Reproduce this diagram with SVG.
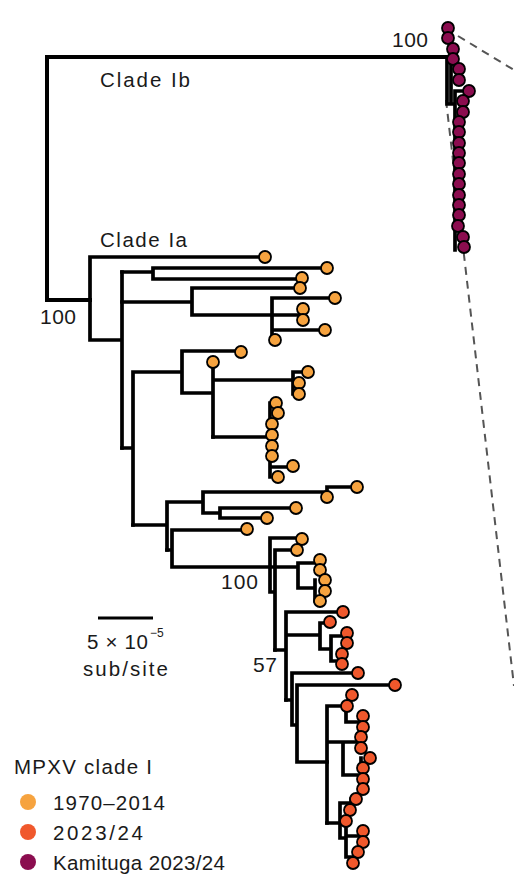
<svg xmlns="http://www.w3.org/2000/svg" width="514" height="876" viewBox="0 0 514 876">
<style>
.br{fill:none;stroke:#000;stroke-width:3.7;stroke-linecap:square;stroke-linejoin:miter}
.root{stroke-width:4}
.dash{fill:none;stroke:#555;stroke-width:2;stroke-dasharray:8,6}
.o{fill:#F6A33F;stroke:#000;stroke-width:1.8}
.r{fill:#F0582C;stroke:#000;stroke-width:1.8}
.k{fill:#8B0D4F;stroke:#000;stroke-width:1.8}
.t{font-family:"Liberation Sans",Arial,sans-serif;font-size:20.5px;fill:#1a1a1a}
.n{font-family:"Liberation Sans",Arial,sans-serif;font-size:21px;fill:#1a1a1a}
</style>
<rect width="514" height="876" fill="#fff"/>
<g id="zoom-lines">
<path class="dash" d="M458,36 L514,70"/>
<path class="dash" d="M446,100 L514,686"/>
</g>
<g id="connectors">
<path class="br root" d="M47,57 H447 M47,57 V300 H90"/>
<path class="br" d="M447,57 V104 H455 M451,65 V104 M455,91 V250 M455,91 H465"/>
<path class="br" d="M90,257 V340 M90,257 H260 M90,340 H122 M122,272 V448"/>
<path class="br" d="M122,272 H153 M153,268 V279 M153,268 H321 M153,279 H296"/>
<path class="br" d="M122,302 H192 M192,288 V315 M192,288 H294 M192,315 H302 M302,309 V320 M272,298 V340 M272,298 H329 M272,330 H320"/>
<path class="br" d="M122,448 H133 M133,372 V525 M133,372 H182 M182,351 V393 M182,351 H236 M182,393 H213 M213,362 V437 M213,380 H293 M293,372 V394 M293,372 H303 M293,383 H296 M293,394 H296"/>
<path class="br" d="M213,437 H270 M270,403 V477 M270,467 H288"/>
<path class="br" d="M133,525 H167 M167,502 V550 M167,502 H203 M203,492 V513 M203,492 H327 M327,487 V497 M327,487 H352 M203,513 H220 M220,508 V518 M220,508 H290 M220,518 H261"/>
<path class="br" d="M167,550 H172 M172,530 V567 M172,530 H241 M172,567 H298 M270,538 V592 M270,538 H296 M270,592 H275 M275,550 V650 M275,550 H291 M298,563 V588 M298,563 H317 M317,560 V570 M298,588 H315 M315,580 V601"/>
<path class="br" d="M275,650 H286 M286,612 V700 M286,612 H337 M286,635 H320 M320,623 V649 M320,623 H325 M320,649 H331 M331,636 V661 M331,636 H345 M345,633 V643 M331,661 H340 M340,654 V664"/>
<path class="br" d="M286,700 H292 M292,673 V725 M292,673 H352 M292,725 H297 M297,685 V762 M297,685 H389 M297,762 H327"/>
<path class="br" d="M327,706 V823 M327,706 H346 V722 H360 M360,716 V727 M327,742 H343 M343,742 V775 M343,742 H359 M359,737 V748 M343,775 H361 M361,758 V789"/>
<path class="br" d="M327,823 H340 M340,803 V838 M340,803 H351 M351,799 V810 M340,838 H346 M346,821 V857 M346,836 H361 M361,831 V842 M346,857 H356 M356,852 V863"/>
</g>
<g id="clade-Ib">
<circle id="ib1" class="k" cx="448" cy="28" r="6"/>
<circle id="ib2" class="k" cx="448" cy="38" r="6"/>
<circle id="ib3" class="k" cx="453" cy="49" r="6"/>
<circle id="ib4" class="k" cx="453" cy="59" r="6"/>
<circle id="ib5" class="k" cx="459" cy="69" r="6"/>
<circle id="ib6" class="k" cx="459" cy="80" r="6"/>
<circle id="ib7" class="k" cx="469" cy="91" r="6"/>
<circle id="ib8" class="k" cx="463" cy="101" r="6"/>
<circle id="ib9" class="k" cx="463" cy="112" r="6"/>
<circle id="ib10" class="k" cx="459" cy="122" r="6"/>
<circle id="ib11" class="k" cx="459" cy="132" r="6"/>
<circle id="ib12" class="k" cx="459" cy="143" r="6"/>
<circle id="ib13" class="k" cx="459" cy="153" r="6"/>
<circle id="ib14" class="k" cx="459" cy="163" r="6"/>
<circle id="ib15" class="k" cx="459" cy="174" r="6"/>
<circle id="ib16" class="k" cx="459" cy="184" r="6"/>
<circle id="ib17" class="k" cx="459" cy="195" r="6"/>
<circle id="ib18" class="k" cx="459" cy="205" r="6"/>
<circle id="ib19" class="k" cx="459" cy="215" r="6"/>
<circle id="ib20" class="k" cx="458" cy="226" r="6"/>
<circle id="ib21" class="k" cx="463" cy="237" r="6"/>
<circle id="ib22" class="k" cx="464" cy="247" r="6"/>
</g>
<g id="clade-Ia-old">
<circle id="o1" class="o" cx="265" cy="257" r="6"/>
<circle id="o2" class="o" cx="327" cy="268" r="6"/>
<circle id="o3" class="o" cx="302" cy="278" r="6"/>
<circle id="o4" class="o" cx="300" cy="288" r="6"/>
<circle id="o5" class="o" cx="335" cy="298" r="6"/>
<circle id="o6" class="o" cx="303" cy="309" r="6"/>
<circle id="o7" class="o" cx="303" cy="320" r="6"/>
<circle id="o8" class="o" cx="325" cy="330" r="6"/>
<circle id="o9" class="o" cx="275" cy="340" r="6"/>
<circle id="o10" class="o" cx="241" cy="352" r="6"/>
<circle id="o11" class="o" cx="213" cy="362" r="6"/>
<circle id="o12" class="o" cx="308" cy="372" r="6"/>
<circle id="o13" class="o" cx="299" cy="383" r="6"/>
<circle id="o14" class="o" cx="299" cy="394" r="6"/>
<circle id="o15" class="o" cx="276" cy="403" r="6"/>
<circle id="o16" class="o" cx="278" cy="413" r="6"/>
<circle id="o17" class="o" cx="272" cy="424" r="6"/>
<circle id="o18" class="o" cx="272" cy="435" r="6"/>
<circle id="o19" class="o" cx="272" cy="446" r="6"/>
<circle id="o20" class="o" cx="272" cy="456" r="6"/>
<circle id="o21" class="o" cx="293" cy="466" r="6"/>
<circle id="o22" class="o" cx="278" cy="477" r="6"/>
<circle id="o23" class="o" cx="357" cy="487" r="6"/>
<circle id="o24" class="o" cx="327" cy="497" r="6"/>
<circle id="o25" class="o" cx="296" cy="508" r="6"/>
<circle id="o26" class="o" cx="267" cy="518" r="6"/>
<circle id="o27" class="o" cx="247" cy="529" r="6"/>
<circle id="o28" class="o" cx="302" cy="539" r="6"/>
<circle id="o29" class="o" cx="297" cy="550" r="6"/>
<circle id="o30" class="o" cx="320" cy="560" r="6"/>
<circle id="o31" class="o" cx="320" cy="570" r="6"/>
<circle id="o32" class="o" cx="325" cy="580" r="6"/>
<circle id="o33" class="o" cx="325" cy="591" r="6"/>
<circle id="o34" class="o" cx="320" cy="601" r="6"/>
</g>
<g id="clade-Ia-new">
<circle id="r1" class="r" cx="343" cy="612" r="6"/>
<circle id="r2" class="r" cx="330" cy="622" r="6"/>
<circle id="r3" class="r" cx="347" cy="633" r="6"/>
<circle id="r4" class="r" cx="347" cy="643" r="6"/>
<circle id="r5" class="r" cx="342" cy="654" r="6"/>
<circle id="r6" class="r" cx="342" cy="664" r="6"/>
<circle id="r7" class="r" cx="358" cy="673" r="6"/>
<circle id="r8" class="r" cx="395" cy="685" r="6"/>
<circle id="r9" class="r" cx="352" cy="695" r="6"/>
<circle id="r10" class="r" cx="347" cy="706" r="6"/>
<circle id="r11" class="r" cx="363" cy="716" r="6"/>
<circle id="r12" class="r" cx="363" cy="727" r="6"/>
<circle id="r13" class="r" cx="361" cy="737" r="6"/>
<circle id="r14" class="r" cx="361" cy="748" r="6"/>
<circle id="r15" class="r" cx="370" cy="758" r="6"/>
<circle id="r16" class="r" cx="363" cy="768" r="6"/>
<circle id="r17" class="r" cx="363" cy="779" r="6"/>
<circle id="r18" class="r" cx="363" cy="789" r="6"/>
<circle id="r19" class="r" cx="356" cy="799" r="6"/>
<circle id="r20" class="r" cx="350" cy="810" r="6"/>
<circle id="r21" class="r" cx="346" cy="821" r="6"/>
<circle id="r22" class="r" cx="363" cy="831" r="6"/>
<circle id="r23" class="r" cx="363" cy="842" r="6"/>
<circle id="r24" class="r" cx="358" cy="852" r="6"/>
<circle id="r25" class="r" cx="353" cy="863" r="6"/>
</g>
<g id="labels">
<text class="n" x="392" y="47" textLength="36">100</text>
<text class="t" x="100" y="87" textLength="90">Clade Ib</text>
<text class="t" x="100" y="247" textLength="87">Clade Ia</text>
<text class="n" x="40" y="324" textLength="36">100</text>
<text class="n" x="221" y="589" textLength="37">100</text>
<text class="n" x="253" y="672" textLength="24">57</text>
</g>
<g id="scale-bar">
<path d="M98,618 H153" stroke="#000" stroke-width="3"/>
<text class="t" x="87" y="649" textLength="61">5 × 10</text>
<text class="t" x="150" y="637" style="font-size:12px">−5</text>
<text class="t" x="83" y="676" textLength="85">sub/site</text>
</g>
<g id="legend">
<text class="t" x="14" y="774" textLength="138">MPXV clade I</text>
<circle cx="28" cy="802" r="8" fill="#F6A33F"/>
<text class="t" x="53" y="810" textLength="112">1970–2014</text>
<circle cx="28" cy="832" r="8" fill="#F0582C"/>
<text class="t" x="53" y="840" textLength="90">2023/24</text>
<circle cx="28" cy="862" r="8" fill="#8B0D4F"/>
<text class="t" x="53" y="870" textLength="172">Kamituga 2023/24</text>
</g>
</svg>
